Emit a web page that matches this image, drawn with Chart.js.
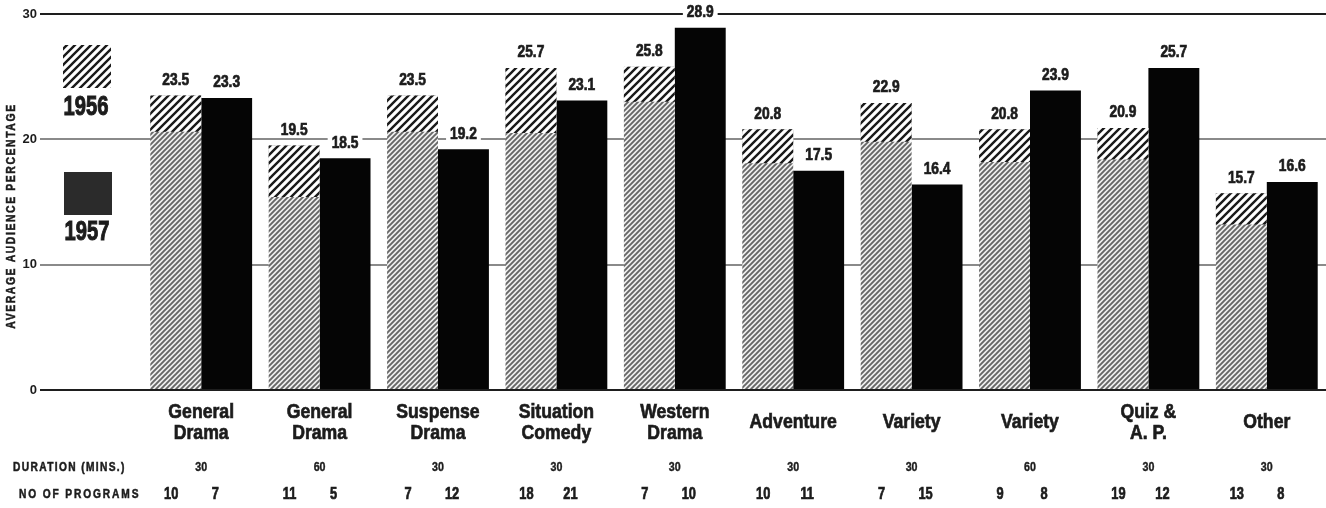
<!DOCTYPE html>
<html>
<head>
<meta charset="utf-8">
<script src="https://cdn.jsdelivr.net/npm/chart.js@4.4.1/dist/chart.umd.min.js"></script>
<style>
  html, body { margin: 0; padding: 0; background: #fff; }
  #wrap { width: 1326px; height: 508px; position: relative; }
</style>
</head>
<body>
<div id="wrap"><canvas id="chart" width="1326" height="508"></canvas></div>
<script>
// Data
const categories = [['General', 'Drama'], ['General', 'Drama'], ['Suspense', 'Drama'], ['Situation', 'Comedy'],
    ['Western', 'Drama'], ['Adventure'], ['Variety'], ['Variety'], ['Quiz &', 'A. P.'], ['Other']];
const audience1956 = [23.5, 19.5, 23.5, 25.7, 25.8, 20.8, 22.9, 20.8, 20.9, 15.7];
const audience1957 = [23.3, 18.5, 19.2, 23.1, 28.9, 17.5, 16.4, 23.9, 25.7, 16.6];
// where the heavy hatching on top of the 1956 bars starts
const heavyHatchFrom = [20.6, 15.4, 20.6, 20.5, 23.0, 18.1, 19.8, 18.2, 18.4, 13.2];
const durationMins = [30, 60, 30, 30, 30, 30, 30, 60, 30, 30];
const programs1956 = [10, 11, 7, 18, 7, 10, 7, 9, 19, 13];
const programs1957 = [7, 5, 12, 21, 10, 11, 15, 8, 12, 8];
const yTicks = [0, 10, 20, 30];

const FONT = '"Liberation Sans", Arial, sans-serif';
const INK = '#1c1c1c';

// diagonal "/" hatch tile
function hatch(size, lineW, color, bg) {
    const c = document.createElement('canvas');
    c.width = size;
    c.height = size;
    const g = c.getContext('2d');
    g.fillStyle = bg;
    g.fillRect(0, 0, size, size);
    g.strokeStyle = color;
    g.lineWidth = lineW;
    g.beginPath();
    [0, size, 2 * size].forEach(k => {
        g.moveTo(k - size - 1, size + 1);
        g.lineTo(size + 1, k - size - 1);
    });
    g.stroke();
    return g.createPattern(c, 'repeat');
}

const heavyHatch = hatch(8, 2.4, '#1a1a1a', '#fff');
const lightHatch = hatch(5, 1.9, '#666', '#efefef');

// condensed heavy text: the original lettering is a narrow bold grotesque
function txt(ctx, s, x, y, size, sx, align, ls, heavy) {
    ctx.save();
    ctx.font = `bold ${size}px ${FONT}`;
    ctx.letterSpacing = (ls || 0) + 'px';
    ctx.textBaseline = 'middle';
    ctx.textAlign = align || 'center';
    ctx.fillStyle = INK;
    ctx.strokeStyle = INK;
    ctx.lineWidth = heavy === undefined ? 0.7 : heavy;
    ctx.translate(x, y);
    ctx.scale(sx, 1);
    ctx.fillText(s, 0, 0);
    if (ctx.lineWidth > 0) ctx.strokeText(s, 0, 0);
    ctx.restore();
}

const extras = {
    id: 'extras',
    afterDatasetsDraw(chart) {
        const ctx = chart.ctx;
        const y = chart.scales.y;
        const put = (el, v) => {
            const t = v.toFixed(1);
            ctx.font = `bold 16px ${FONT}`;
            const w = ctx.measureText(t).width * 0.86;
            const ty = y.getPixelForValue(v) - 15;
            ctx.fillStyle = '#fff';
            ctx.fillRect(el.x - w / 2 - 4, ty - 7, w + 8, 14);
            txt(ctx, t, el.x, ty, 16, 0.86);
        };
        chart.getDatasetMeta(0).data.forEach((el, i) => put(el, audience1956[i]));
        chart.getDatasetMeta(2).data.forEach((el, i) => put(el, audience1957[i]));
    },
    afterDraw(chart) {
        const ctx = chart.ctx;
        const x = chart.scales.x;
        ctx.save();

        // legend
        ctx.fillStyle = heavyHatch;
        ctx.fillRect(63, 45, 48, 43);
        ctx.fillStyle = '#2b2b2b';
        ctx.fillRect(64, 172, 48, 43);
        txt(ctx, '1956', 86, 107, 28, 0.72, 'center', 0, 1.1);
        txt(ctx, '1957', 87, 232, 28, 0.72, 'center', 0, 1.1);

        // axis title
        ctx.save();
        ctx.translate(11, 216);
        ctx.rotate(-Math.PI / 2);
        txt(ctx, 'AVERAGE AUDIENCE PERCENTAGE', 0, 0, 13, 0.8, 'center', 2, 0.5);
        ctx.restore();

        // category names
        categories.forEach((lines, i) => {
            const cx = x.getPixelForValue(i);
            if (lines.length === 1) {
                txt(ctx, lines[0], cx, 422, 21, 0.84);
            } else {
                txt(ctx, lines[0], cx, 412, 21, 0.84);
                txt(ctx, lines[1], cx, 433, 21, 0.84);
            }
        });

        // table rows under the axis
        txt(ctx, 'DURATION (MINS.)', 13, 468, 12, 0.85, 'left', 1.6, 0.5);
        txt(ctx, 'NO OF PROGRAMS', 19, 495, 12, 0.85, 'left', 2.2, 0.5);
        durationMins.forEach((d, i) => {
            const cx = x.getPixelForValue(i);
            txt(ctx, String(d), cx, 467, 13, 0.82, 'center', 0, 0.4);
            txt(ctx, String(programs1956[i]), cx - 30, 495, 16, 0.8);
            txt(ctx, String(programs1957[i]), cx + 14, 495, 16, 0.8);
        });
        ctx.restore();
    }
};

new Chart(document.getElementById('chart'), {
    type: 'bar',
    data: {
        labels: categories,
        datasets: [
            {
                label: '1956 top',
                data: heavyHatchFrom.map((s, i) => [s, audience1956[i]]),
                backgroundColor: heavyHatch,
                stack: 'y1956'
            },
            {
                label: '1956',
                data: audience1956,
                backgroundColor: lightHatch,
                stack: 'y1956'
            },
            {
                label: '1957',
                data: audience1957,
                backgroundColor: '#050505',
                stack: 'y1957'
            }
        ]
    },
    options: {
        responsive: false,
        animation: false,
        layout: { padding: { top: 14, right: 0, left: 0, bottom: 0 } },
        plugins: {
            legend: { display: false },
            tooltip: { enabled: false }
        },
        datasets: {
            bar: { categoryPercentage: 0.86, barPercentage: 1.0, borderWidth: 0 }
        },
        scales: {
            x: {
                stacked: true,
                grid: { display: false, drawTicks: false },
                border: { display: false },
                ticks: { display: false },
                afterFit(s) { s.height = 118; }
            },
            y: {
                stacked: false,
                min: 0,
                max: 30,
                afterBuildTicks(s) { s.ticks = yTicks.map(v => ({ value: v })); },
                ticks: {
                    color: INK,
                    font: { family: FONT, size: 13, weight: 'bold' },
                    padding: 3
                },
                grid: {
                    color: c => (c.tick && (c.tick.value === 20 || c.tick.value === 10)) ? '#8a8a8a' : '#1e1e1e',
                    lineWidth: 2,
                    tickLength: 102
                },
                border: { display: false },
                afterFit(s) { s.width = 142; }
            }
        }
    },
    plugins: [extras]
});
</script>
</body>
</html>
